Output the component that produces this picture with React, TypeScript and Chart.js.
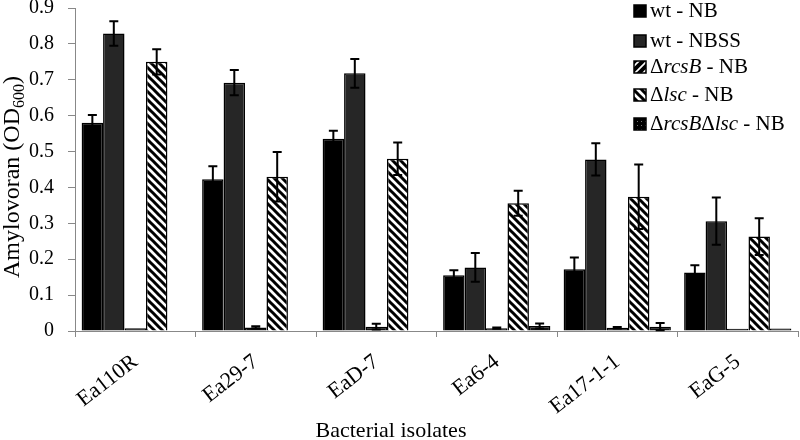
import React, { useEffect, useRef } from "react";
import { Chart, registerables } from "chart.js";

Chart.register(...registerables);

const categories = ["Ea110R", "Ea29-7", "EaD-7", "Ea6-4", "Ea17-1-1", "EaG-5"];

const wtNB = [0.58, 0.423, 0.536, 0.155, 0.172, 0.163];
const wtNBErr = [0.022, 0.036, 0.022, 0.014, 0.033, 0.02];
const wtNBSS = [0.829, 0.692, 0.718, 0.177, 0.478, 0.306];
const wtNBSSErr = [0.034, 0.035, 0.04, 0.04, 0.045, 0.066];
const rcsB = [0.008, 0.01, 0.012, 0.008, 0.009, 0.006];
const rcsBErr = [0, 0.003, 0.008, 0.002, 0.002, 0];
const lsc = [0.75, 0.43, 0.48, 0.356, 0.374, 0.263];
const lscErr = [0.035, 0.069, 0.045, 0.035, 0.09, 0.051];
const rcsBlsc = [0, 0, 0, 0.014, 0.012, 0.007];
const rcsBlscErr = [0, 0, 0, 0.007, 0.01, 0];

const yTicks = [0, 0.1, 0.2, 0.3, 0.4, 0.5, 0.6, 0.7, 0.8, 0.9];

const SERIF = "'Liberation Serif', 'Times New Roman', serif";

type Seg = { t: string; i: boolean };
const legendLabels: Seg[][] = [
  [{ t: "wt - NB", i: false }],
  [{ t: "wt - NBSS", i: false }],
  [{ t: "Δ", i: false }, { t: "rcsB", i: true }, { t: " - NB", i: false }],
  [{ t: "Δ", i: false }, { t: "lsc", i: true }, { t: " - NB", i: false }],
  [
    { t: "Δ", i: false },
    { t: "rcsB", i: true },
    { t: "Δ", i: false },
    { t: "lsc", i: true },
    { t: " - NB", i: false },
  ],
];

function makePattern(kind: string): CanvasPattern | string {
  const c = document.createElement("canvas");
  const ctx = c.getContext("2d")!;
  if (kind === "back") {
    const s = 8;
    c.width = s;
    c.height = s;
    ctx.fillStyle = "#fff";
    ctx.fillRect(0, 0, s, s);
    ctx.strokeStyle = "#000";
    ctx.lineWidth = 3;
    ctx.beginPath();
    ctx.moveTo(-2, -2);
    ctx.lineTo(s + 2, s + 2);
    ctx.moveTo(-2, s - 2);
    ctx.lineTo(2, s + 2);
    ctx.moveTo(s - 2, -2);
    ctx.lineTo(s + 2, 2);
    ctx.stroke();
  } else if (kind === "fwd") {
    const s = 8;
    c.width = s;
    c.height = s;
    ctx.fillStyle = "#fff";
    ctx.fillRect(0, 0, s, s);
    ctx.strokeStyle = "#000";
    ctx.lineWidth = 4;
    ctx.beginPath();
    ctx.moveTo(-2, s + 2);
    ctx.lineTo(s + 2, -2);
    ctx.moveTo(-2, 2);
    ctx.lineTo(2, -2);
    ctx.moveTo(s - 2, s + 2);
    ctx.lineTo(s + 2, s - 2);
    ctx.stroke();
  } else {
    const s = 4;
    c.width = s;
    c.height = s;
    ctx.fillStyle = "#000";
    ctx.fillRect(0, 0, s, s);
    ctx.fillStyle = "#777";
    ctx.fillRect(1, 1, 1, 1);
  }
  const p = ctx.createPattern(c, "repeat");
  return p || "#000";
}

export default function App() {
  const ref = useRef<HTMLCanvasElement | null>(null);

  useEffect(() => {
    const canvas = ref.current;
    if (!canvas) return;

    const fills: (CanvasPattern | string)[] = [
      "#000000",
      "#262626",
      makePattern("fwd"),
      makePattern("back"),
      makePattern("dots"),
    ];
    const values = [wtNB, wtNBSS, rcsB, lsc, rcsBlsc];
    const errs = [wtNBErr, wtNBSSErr, rcsBErr, lscErr, rcsBlscErr];

    const errorBars = {
      id: "errorBars",
      afterDatasetsDraw(chart: any) {
        const ctx = chart.ctx;
        const ys = chart.scales.y;
        ctx.save();
        ctx.strokeStyle = "#000";
        ctx.lineWidth = 2;
        values.forEach((vals, di) => {
          const meta = chart.getDatasetMeta(di);
          meta.data.forEach((el: any, j: number) => {
            const e = errs[di][j];
            if (!e) return;
            const v = vals[j];
            const x = el.x;
            const yt = ys.getPixelForValue(v + e);
            const yb = ys.getPixelForValue(Math.max(v - e, 0));
            const cap = 4.5;
            ctx.beginPath();
            ctx.moveTo(x, yt);
            ctx.lineTo(x, yb);
            ctx.moveTo(x - cap, yt);
            ctx.lineTo(x + cap, yt);
            ctx.moveTo(x - cap, yb);
            ctx.lineTo(x + cap, yb);
            ctx.stroke();
          });
        });
        ctx.restore();
      },
    };

    const drawSegs = (ctx: CanvasRenderingContext2D, segs: Seg[], x: number, y: number, size: number) => {
      let cx = x;
      segs.forEach((s) => {
        ctx.font = `${s.i ? "italic " : ""}${size}px ${SERIF}`;
        ctx.fillText(s.t, cx, y);
        cx += ctx.measureText(s.t).width;
      });
    };

    const decorations = {
      id: "decorations",
      afterDraw(chart: any) {
        const ctx = chart.ctx as CanvasRenderingContext2D;
        ctx.save();
        ctx.fillStyle = "#000";
        ctx.textBaseline = "alphabetic";
        ctx.textAlign = "left";
        // legend
        const baselines = [17, 47, 73, 101, 130];
        legendLabels.forEach((segs, i) => {
          const by = baselines[i];
          const bx = 634;
          const top = by - 12;
          ctx.fillStyle = fills[i] as any;
          ctx.fillRect(bx, top, 12, 12);
          ctx.strokeStyle = "#000";
          ctx.lineWidth = 1.5;
          ctx.strokeRect(bx, top, 12, 12);
          ctx.fillStyle = "#000";
          drawSegs(ctx, segs, 650, by, 21);
        });
        // x title
        ctx.font = `22px ${SERIF}`;
        ctx.textAlign = "center";
        ctx.fillText("Bacterial isolates", 391, 437);
        // y title
        ctx.translate(19, 177);
        ctx.rotate(-Math.PI / 2);
        const mainSize = 24;
        const subSize = 16;
        ctx.font = `${mainSize}px ${SERIF}`;
        const p1 = "Amylovoran (OD";
        const p2 = "600";
        const p3 = ")";
        const w1 = ctx.measureText(p1).width;
        ctx.font = `${subSize}px ${SERIF}`;
        const w2 = ctx.measureText(p2).width;
        ctx.font = `${mainSize}px ${SERIF}`;
        const w3 = ctx.measureText(p3).width;
        const total = w1 + w2 + w3;
        let sx = -total / 2;
        ctx.textAlign = "left";
        ctx.fillText(p1, sx, 0);
        sx += w1;
        ctx.font = `${subSize}px ${SERIF}`;
        ctx.fillText(p2, sx, 5);
        sx += w2;
        ctx.font = `${mainSize}px ${SERIF}`;
        ctx.fillText(p3, sx, 0);
        ctx.restore();
      },
    };

    const chart = new Chart(canvas, {
      type: "bar",
      data: {
        labels: categories,
        datasets: values.map((vals, i) => ({
          label: ["wt - NB", "wt - NBSS", "ΔrcsB - NB", "Δlsc - NB", "ΔrcsBΔlsc - NB"][i],
          data: vals,
          backgroundColor: (c: any) => {
            const v = c.raw;
            if (typeof v === "number" && v < 0.03) return "#111";
            return fills[i] as any;
          },
          borderColor: "#000",
          borderWidth: 1.5,
          categoryPercentage: 0.89,
          barPercentage: 1,
        })),
      },
      options: {
        animation: false,
        responsive: false,
        layout: { padding: { left: 0, right: 2, top: 8, bottom: 0 } },
        plugins: { legend: { display: false }, tooltip: { enabled: false } },
        scales: {
          x: {
            offset: true,
            grid: { offset: true, drawOnChartArea: false, drawTicks: true, tickLength: 6, color: "#888" },
            border: { color: "#888", width: 1, z: -1 },
            ticks: {
              font: { family: SERIF, size: 22 },
              color: "#000",
              minRotation: 38,
              maxRotation: 38,
              padding: 12,
              autoSkip: false,
            },
            afterFit: (s: any) => {
              s.height = 109;
              s.paddingLeft = 0;
              s.paddingRight = 0;
            },
          },
          y: {
            min: 0,
            max: 0.9,
            afterBuildTicks: (s: any) => {
              s.ticks = yTicks.map((v) => ({ value: v }));
            },
            ticks: {
              font: { family: SERIF, size: 20 },
              color: "#000",
              padding: 14,
              callback: (v: any) => String(Math.round(Number(v) * 10) / 10),
            },
            grid: { drawOnChartArea: false, tickLength: 7, color: "#888" },
            border: { color: "#888", width: 1 },
            afterFit: (s: any) => {
              s.width = 75;
              s.paddingTop = 0;
              s.paddingBottom = 0;
            },
          },
        },
      },
      plugins: [errorBars, decorations],
    });

    return () => chart.destroy();
  }, []);

  return (
    <div style={{ position: "absolute", left: 0, top: 0, width: 800, height: 440, background: "#fff" }}>
      <canvas ref={ref} width={800} height={440} style={{ display: "block", width: 800, height: 440 }} />
    </div>
  );
}
